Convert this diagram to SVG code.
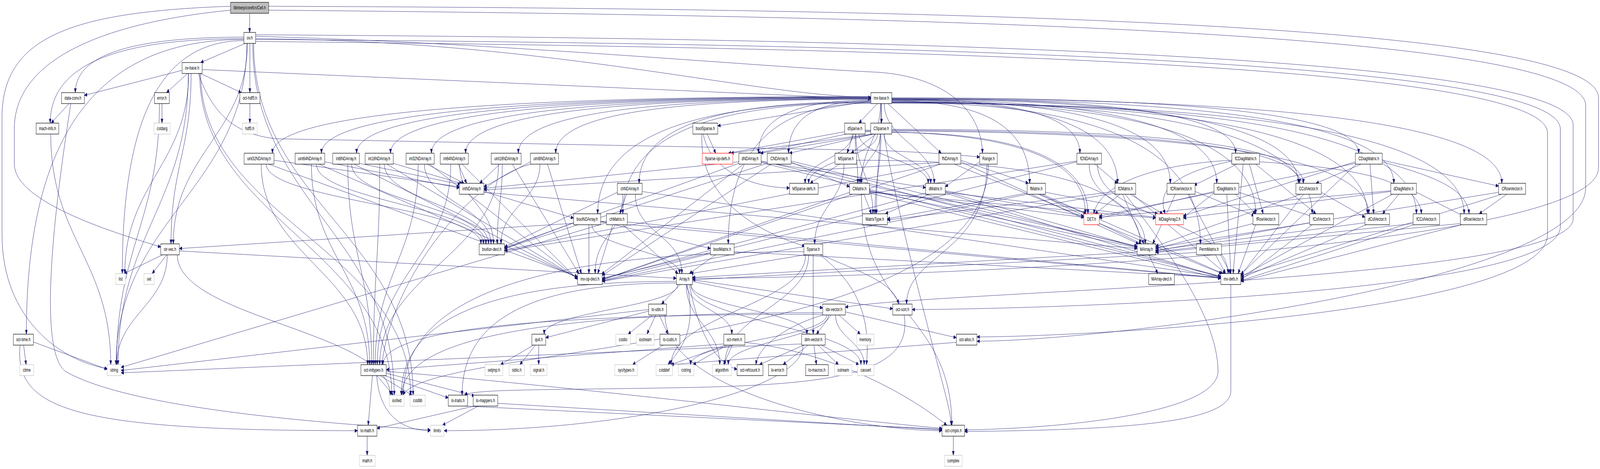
<svg xmlns="http://www.w3.org/2000/svg" width="6371" height="1200" viewBox="0 0 6371 1200" preserveAspectRatio="none" style="width:100vw;height:100vh;display:block">
<style>
.n rect{fill:#fff;stroke:#000;stroke-width:1.2}
.n.x rect{stroke:#bfbfbf}
.n.t rect{stroke:#f00}
.n.r rect{fill:#bfbfbf}
.n text{font-family:"Liberation Sans",Arial,sans-serif;font-size:13px;text-anchor:middle;fill:#000}
#edges path{fill:none;stroke:#191970;stroke-width:1;marker-end:url(#ah)}
</style>
<defs>
<marker id="ah" markerUnits="userSpaceOnUse" viewBox="0 0 12 10" markerWidth="12" markerHeight="10" refX="11" refY="4.5" orient="auto"><path d="M0,0 L11,4.5 L0,9 z" fill="#191970" stroke="#191970" stroke-width="1"/></marker>
</defs>
<rect width="6371" height="1200" fill="#fff"/>
<g id="edges">
<path d="M994,34 L994,83"/>
<path d="M918,16 C300,30 8,90 8,300 L8,600 C8,820 250,925 427,943"/>
<path d="M918,26 C380,60 57,160 57,330 L57,420 C57,520 480,600 640,632"/>
<path d="M1070,16 C3500,22 6365,50 6365,250 L6365,430 C6365,640 3600,712 2757,712"/>
<path d="M1070,26 C3500,40 6314,75 6314,270 L6314,480 C6314,720 4400,873 3890,873"/>
<path d="M977,111 L799,160"/>
<path d="M995,111 L995,237"/>
<path d="M971,95 C535,95 300,138 300,237"/>
<path d="M971,99 C470,99 200,164 200,315"/>
<path d="M971,101 C408,101 105,327 105,855"/>
<path d="M983,111 C983,484 462,560 462,933"/>
<path d="M971,104 C656,104 487,283 487,700"/>
<path d="M1010,111 C1010,516 1645,606 1645,1011"/>
<path d="M1006,111 C1006,516 1570,606 1570,1011"/>
<path d="M1018,93 C2000,110 3000,170 3500,185 C3800,200 3910,300 3912,392"/>
<path d="M1018,99 C2200,104 3000,246 3468,249"/>
<path d="M985,111 C985,342 690,393 690,624"/>
<path d="M1018,89 C3500,98 6264,140 6264,320 L6264,560 C6264,720 3700,745 3366,786"/>
<path d="M1018,101 C3500,112 6213,150 6213,330 L6213,580 C6213,760 4000,792 3632,792"/>
<path d="M1018,106 C3500,122 6162,160 6162,340 L6162,600 C6162,800 4300,862 3890,862"/>
<path d="M725,180 L336,244"/>
<path d="M747,188 L663,237"/>
<path d="M799,188 L961,237"/>
<path d="M805,178 L3468,253"/>
<path d="M761,188 C761,384 681,428 681,624"/>
<path d="M750,188 C750,523 470,598 470,933"/>
<path d="M751,188 C751,418 497,470 497,700"/>
<path d="M799,188 C799,558 1635,641 1635,1011"/>
<path d="M795,188 C795,558 1560,641 1560,1011"/>
<path d="M790,188 C850,300 950,345 1100,355 L3500,385 C3700,390 3850,398 3901,402"/>
<path d="M275,265 L204,315"/>
<path d="M282,265 C200,600 160,900 260,950 C500,1040 1200,1080 1714,1100"/>
<path d="M202,343 C202,609 441,667 441,933"/>
<path d="M645,265 L645,315"/>
<path d="M635,265 C635,565 464,633 464,933"/>
<path d="M995,265 L995,315"/>
<path d="M94,883 L104,933"/>
<path d="M133,875 L427,945"/>
<path d="M80,883 C55,1050 300,1102 1424,1102"/>
<path d="M647,652 L494,700"/>
<path d="M664,652 L606,700"/>
<path d="M666,652 C666,778 465,807 465,933"/>
<path d="M706,652 C706,814 1554,849 1554,1011"/>
<path d="M714,642 L2693,712"/>
<path d="M3468,258 L2858,322"/>
<path d="M3494,265 L3420,315"/>
<path d="M3510,265 L3510,315"/>
<path d="M3468,247 C1919,247 1085,293 1085,392"/>
<path d="M3468,248 C2046,248 1280,293 1280,392"/>
<path d="M3468,249 C2137,249 1420,293 1420,392"/>
<path d="M3468,250 C2225,250 1555,293 1555,392"/>
<path d="M3468,251 C2331,251 1718,293 1718,392"/>
<path d="M3468,252 C2419,252 1854,293 1854,392"/>
<path d="M3468,253 C2555,253 2064,293 2064,392"/>
<path d="M3468,254 C2652,254 2213,293 2213,392"/>
<path d="M3468,256 C3177,256 3020,300 3020,392"/>
<path d="M3468,258 C3255,258 3140,300 3140,392"/>
<path d="M3535,265 L3748,392"/>
<path d="M3551,254 C4038,254 4300,295 4300,392"/>
<path d="M3551,252 C4441,252 4920,294 4920,392"/>
<path d="M3551,250 C4759,250 5410,293 5410,392"/>
<path d="M3468,260 C2868,260 2545,323 2545,469"/>
<path d="M3506,265 C3506,357 3430,377 3430,469"/>
<path d="M3521,265 C3521,357 3720,377 3720,469"/>
<path d="M3551,258 C3908,258 4100,321 4100,469"/>
<path d="M3551,257 C4135,257 4450,321 4450,469"/>
<path d="M3551,256 C4272,256 4660,320 4660,469"/>
<path d="M3551,255 C4392,255 4845,320 4845,469"/>
<path d="M3551,254 C4603,254 5170,320 5170,469"/>
<path d="M3551,253 C4850,253 5550,319 5550,469"/>
<path d="M3551,252 C5130,252 5980,319 5980,469"/>
<path d="M3468,262 C2761,262 2380,348 2380,547"/>
<path d="M3468,263 C2826,263 2480,348 2480,547"/>
<path d="M3508,265 C3508,392 3490,420 3490,547"/>
<path d="M3551,260 C4493,260 5000,346 5000,547"/>
<path d="M3551,261 C4639,261 5225,346 5225,547"/>
<path d="M3551,262 C4782,262 5445,347 5445,547"/>
<path d="M3551,263 C4909,263 5640,347 5640,547"/>
<path d="M3551,264 C5032,264 5830,348 5830,547"/>
<path d="M3468,264 C3099,264 2900,372 2900,624"/>
<path d="M3551,262 C4350,262 4780,371 4780,624"/>
<path d="M2816,343 L2850,392"/>
<path d="M2800,343 C2830,440 3000,480 3144,481"/>
<path d="M2795,343 C2780,520 3050,600 3205,630"/>
<path d="M3420,343 C3420,400 3696,412 3696,469"/>
<path d="M3369,343 L3018,392"/>
<path d="M3405,343 C3405,400 3416,412 3416,469"/>
<path d="M3445,335 C4748,335 5450,399 5450,547"/>
<path d="M3445,333 C4573,333 5175,375 5175,469"/>
<path d="M3445,337 C4017,337 4322,400 4322,547"/>
<path d="M3399,343 L3373,392"/>
<path d="M3394,343 C3394,400 3206,412 3206,469"/>
<path d="M3363,337 L2900,392"/>
<path d="M3408,343 C3408,435 3476,455 3476,547"/>
<path d="M3520,343 C3520,400 3706,412 3706,469"/>
<path d="M3480,343 L3028,392"/>
<path d="M3478,343 L3143,392"/>
<path d="M3505,343 C3505,400 3424,412 3424,469"/>
<path d="M3551,331 C4616,331 5190,372 5190,469"/>
<path d="M3520,343 C3560,500 3640,700 3700,850 C3760,1000 3785,1050 3788,1088"/>
<path d="M3551,339 C4017,339 4332,400 4332,547"/>
<path d="M3488,343 L3389,392"/>
<path d="M3494,343 C3494,400 3220,412 3220,469"/>
<path d="M3473,343 L2910,392"/>
<path d="M3508,343 C3508,435 3484,455 3484,547"/>
<path d="M3343,420 L3226,469"/>
<path d="M3361,420 C3361,512 3244,532 3244,624"/>
<path d="M3411,410 C4145,410 4540,474 4540,624"/>
<path d="M3206,652 L2750,700"/>
<path d="M3238,652 L3238,855"/>
<path d="M3265,652 C3400,720 3470,800 3450,933"/>
<path d="M3270,652 C3400,690 3560,720 3578,778"/>
<path d="M3208,652 C3208,778 2672,807 2672,933"/>
<path d="M3220,652 C3220,778 2886,807 2886,933"/>
<path d="M3201,644 C2164,644 1606,754 1606,1011"/>
<path d="M2709,728 L2634,778"/>
<path d="M2757,720 L3276,788"/>
<path d="M2757,716 L3555,790"/>
<path d="M2751,728 C2751,785 3213,798 3213,855"/>
<path d="M2699,728 C2699,785 2167,798 2167,855"/>
<path d="M2735,728 C2735,785 2914,798 2914,855"/>
<path d="M2745,728 C2780,850 2850,930 2935,945"/>
<path d="M2751,728 C2751,820 3428,841 3428,933"/>
<path d="M2735,728 C2780,850 2700,900 2660,933"/>
<path d="M2732,728 C2732,820 2866,841 2866,933"/>
<path d="M2693,720 C1981,720 1598,807 1598,1011"/>
<path d="M2693,724 C2139,724 1840,810 1840,1011"/>
<path d="M2598,806 L2501,855"/>
<path d="M2611,806 L2576,855"/>
<path d="M2625,806 L2660,855"/>
<path d="M2583,796 L2173,864"/>
<path d="M2583,792 L482,948"/>
<path d="M2648,806 C2648,1000 3400,1102 3751,1102"/>
<path d="M2124,883 L1993,933"/>
<path d="M2132,883 L2070,933"/>
<path d="M2145,883 L2145,933"/>
<path d="M2641,883 L2519,933"/>
<path d="M2888,883 L2672,933"/>
<path d="M2895,883 L2760,933"/>
<path d="M2916,883 L2881,933"/>
<path d="M2882,880 L1538,946"/>
<path d="M2966,876 C3300,900 3600,1000 3770,1088"/>
<path d="M3241,883 L3251,933"/>
<path d="M3257,883 L3339,933"/>
<path d="M3270,883 L3420,933"/>
<path d="M3218,883 L3118,933"/>
<path d="M3201,883 L3024,933"/>
<path d="M3192,880 L482,954"/>
<path d="M3198,883 C3198,1000 2500,1102 1768,1102"/>
<path d="M3309,806 L3251,855"/>
<path d="M3340,806 L3426,855"/>
<path d="M3366,798 L3808,864"/>
<path d="M3327,806 C3327,863 3441,876 3441,933"/>
<path d="M3292,806 C3292,863 2750,876 2750,933"/>
<path d="M3299,806 C3299,863 2900,876 2900,933"/>
<path d="M3276,800 C2187,800 1600,863 1600,1011"/>
<path d="M3276,804 C2138,804 1525,843 1525,933"/>
<path d="M3276,806 C3150,830 3020,880 3010,933"/>
<path d="M3600,806 C3640,960 3300,985 2700,992 C2200,998 1880,995 1850,1011"/>
<path d="M3808,876 L2670,933"/>
<path d="M3796,1116 L3796,1165"/>
<path d="M1850,1039 L3751,1098"/>
<path d="M1904,1039 L1762,1088"/>
<path d="M1888,1039 L1501,1096"/>
<path d="M1982,1032 L3751,1100"/>
<path d="M1462,1116 L1462,1165"/>
<path d="M1501,961 L1566,1011"/>
<path d="M1513,961 L1641,1011"/>
<path d="M1531,961 L1785,1018"/>
<path d="M1538,955 L1890,1013"/>
<path d="M1483,961 L1466,1088"/>
<path d="M1500,961 C1510,1060 1600,1102 1714,1102"/>
<path d="M1538,950 C2300,990 3300,1070 3751,1096"/>
<path d="M1927,490 L2284,558"/>
<path d="M1927,492 L4528,636"/>
<path d="M1091,410 L1829,478"/>
<path d="M1293,414 L1829,481"/>
<path d="M1431,418 L1834,472"/>
<path d="M1566,418 L1840,470"/>
<path d="M1700,420 L1848,469"/>
<path d="M1825,420 L1858,469"/>
<path d="M1990,420 L1910,469"/>
<path d="M2112,414 L1927,478"/>
<path d="M1040,420 C1040,651 1464,702 1464,933"/>
<path d="M1240,420 C1240,651 1472,702 1472,933"/>
<path d="M1385,420 C1385,651 1480,702 1480,933"/>
<path d="M1512,420 C1512,651 1487,702 1487,933"/>
<path d="M1665,420 C1665,651 1494,702 1494,933"/>
<path d="M1795,420 C1795,651 1502,702 1502,933"/>
<path d="M1985,420 C1985,651 1512,702 1512,933"/>
<path d="M2115,420 C1900,450 1560,700 1521,933"/>
<path d="M1060,420 C1060,512 1915,532 1915,624"/>
<path d="M1260,420 C1260,512 1925,532 1925,624"/>
<path d="M1400,420 C1400,512 1935,532 1935,624"/>
<path d="M1530,420 C1530,512 1945,532 1945,624"/>
<path d="M1690,420 C1690,512 1955,532 1955,624"/>
<path d="M1830,420 C1830,512 1965,532 1965,624"/>
<path d="M2000,420 C2000,512 1980,532 1980,624"/>
<path d="M2150,420 C2150,512 1995,532 1995,624"/>
<path d="M1070,420 L2300,708"/>
<path d="M1270,420 L2300,710"/>
<path d="M1410,420 L2300,711"/>
<path d="M1540,420 L2300,712"/>
<path d="M1710,420 L2300,713"/>
<path d="M1840,420 L2300,715"/>
<path d="M2040,420 L2305,700"/>
<path d="M2180,420 L2315,700"/>
<path d="M2357,575 C2357,631 2706,644 2706,700"/>
<path d="M2392,568 L4861,712"/>
<path d="M2345,575 L2345,700"/>
<path d="M2284,570 L2009,636"/>
<path d="M2392,566 L2829,636"/>
<path d="M2850,652 L2745,700"/>
<path d="M2923,644 L4861,710"/>
<path d="M2829,646 L2398,712"/>
<path d="M2530,497 C2530,600 2715,600 2715,700"/>
<path d="M2495,497 L2468,547"/>
<path d="M2557,490 L4861,709"/>
<path d="M2480,497 C2480,600 2370,600 2370,700"/>
<path d="M2458,492 L2009,632"/>
<path d="M2415,570 L482,940"/>
<path d="M2480,575 L2700,700"/>
<path d="M2498,568 L4861,711"/>
<path d="M2440,575 L2380,700"/>
<path d="M2415,566 L714,636"/>
<path d="M3031,412 L4528,630"/>
<path d="M3031,414 L3686,480"/>
<path d="M2942,414 L1927,482"/>
<path d="M3031,416 L4861,708"/>
<path d="M2960,420 L2395,702"/>
<path d="M2942,418 L2009,634"/>
<path d="M3150,412 L4528,632"/>
<path d="M3150,415 L3383,478"/>
<path d="M3150,417 L4861,707"/>
<path d="M3070,420 L2398,705"/>
<path d="M3055,418 L2009,636"/>
<path d="M3826,414 L4534,624"/>
<path d="M3826,410 L4095,469"/>
<path d="M3739,416 L1927,486"/>
<path d="M3800,420 L4865,700"/>
<path d="M3745,420 L2398,716"/>
<path d="M3739,420 L2009,640"/>
<path d="M4337,420 C4337,520 4560,520 4560,624"/>
<path d="M4360,420 L4450,469"/>
<path d="M4370,420 C4370,560 4890,560 4890,700"/>
<path d="M4288,414 L2398,718"/>
<path d="M4288,412 L2009,642"/>
<path d="M3462,488 L4528,634"/>
<path d="M3462,492 L4602,558"/>
<path d="M3440,497 L3470,547"/>
<path d="M3462,494 L4861,713"/>
<path d="M3383,492 L2398,716"/>
<path d="M3430,497 C3430,800 3790,800 3790,1088"/>
<path d="M3462,490 L4316,556"/>
<path d="M3764,490 L4528,632"/>
<path d="M3764,492 L4602,556"/>
<path d="M3700,497 L3525,547"/>
<path d="M3764,494 L4861,710"/>
<path d="M3686,494 L2398,714"/>
<path d="M3764,488 L4316,553"/>
<path d="M4140,497 L4545,624"/>
<path d="M4163,492 L4610,547"/>
<path d="M4090,494 L3533,560"/>
<path d="M4150,497 L4870,700"/>
<path d="M4090,497 L2398,719"/>
<path d="M4135,497 L4325,547"/>
<path d="M4470,497 L4555,624"/>
<path d="M4500,497 L4630,547"/>
<path d="M4440,490 L3533,563"/>
<path d="M4510,497 L4880,700"/>
<path d="M4440,494 L2398,720"/>
<path d="M4481,497 C4600,600 4850,800 4850,950 C4850,1050 4300,1095 3841,1100"/>
<path d="M4460,497 L4360,547"/>
<path d="M5435,570 L4602,640"/>
<path d="M5440,575 L4941,712"/>
<path d="M5180,497 L4602,630"/>
<path d="M5190,497 L4941,704"/>
<path d="M5261,492 L5435,556"/>
<path d="M5215,570 L4602,642"/>
<path d="M5225,575 L4941,716"/>
<path d="M5627,572 L4602,644"/>
<path d="M5630,575 L4941,718"/>
<path d="M5815,572 L4602,646"/>
<path d="M5820,575 L4941,720"/>
<path d="M5967,492 L4602,634"/>
<path d="M5980,497 L4941,706"/>
<path d="M6000,497 L5890,547"/>
<path d="M4989,572 L4602,636"/>
<path d="M5000,575 L4930,700"/>
<path d="M4680,497 L4590,624"/>
<path d="M4730,497 L4900,700"/>
<path d="M4759,490 L4995,552"/>
<path d="M5538,490 L4712,558"/>
<path d="M5640,492 L5825,552"/>
<path d="M5570,497 L5505,547"/>
<path d="M5545,497 L4941,708"/>
<path d="M5538,488 L4377,556"/>
<path d="M5397,414 L4712,552"/>
<path d="M5504,414 C5700,450 5840,480 5850,547"/>
<path d="M5504,410 L5967,476"/>
<path d="M5455,420 L5470,547"/>
<path d="M5420,420 L5240,469"/>
<path d="M5400,420 L4941,702"/>
<path d="M5397,418 L4377,553"/>
<path d="M4834,494 L4712,556"/>
<path d="M4920,497 L5000,547"/>
<path d="M4933,492 L5225,554"/>
<path d="M4885,497 L4901,700"/>
<path d="M4834,490 L4377,558"/>
<path d="M4905,412 C4700,440 4600,480 4640,547"/>
<path d="M4975,420 L5030,547"/>
<path d="M4925,420 L4755,474"/>
<path d="M5000,420 L5240,547"/>
<path d="M5015,414 C5400,430 5650,460 5660,547"/>
<path d="M4950,420 L4910,700"/>
<path d="M4905,410 C4600,420 4380,470 4355,547"/>
<path d="M4764,646 L2757,716"/>
<path d="M4840,652 L4880,700"/>
<path d="M4528,645 L2757,710"/>
<path d="M4575,652 L4610,700"/>
<path d="M4901,728 L4901,1000 C4901,1080 4500,1100 3841,1104"/>
<path d="M3901,414 L3764,478"/>
<path d="M3930,420 C3930,650 3610,650 3610,778"/>
<path d="M3936,420 C3936,900 1700,880 1605,1011"/>
</g>
<g id="n-cell" class="n r"><rect x="918" y="6" width="152" height="28"/><text x="994" y="24.5">libinterp/corefcn/Cell.h</text></g>
<g id="n-ov" class="n"><rect x="971" y="83" width="47" height="28"/><text x="994.5" y="101.5">ov.h</text></g>
<g id="n-ov-base" class="n"><rect x="725" y="160" width="80" height="28"/><text x="765" y="178.5">ov-base.h</text></g>
<g id="n-data-conv" class="n"><rect x="245" y="237" width="91" height="28"/><text x="290.5" y="255.5">data-conv.h</text></g>
<g id="n-error" class="n"><rect x="615" y="237" width="59" height="28"/><text x="644.5" y="255.5">error.h</text></g>
<g id="n-oct-hdf5" class="n"><rect x="955" y="237" width="80" height="28"/><text x="995" y="255.5">oct-hdf5.h</text></g>
<g id="n-mx-base" class="n"><rect x="3468" y="237" width="83" height="28"/><text x="3509.5" y="255.5">mx-base.h</text></g>
<g id="n-mach-info" class="n"><rect x="144" y="315" width="90" height="28"/><text x="189" y="333.5">mach-info.h</text></g>
<g id="n-cstdarg" class="n x"><rect x="613" y="315" width="65" height="28"/><text x="645.5" y="333.5">cstdarg</text></g>
<g id="n-hdf5" class="n x"><rect x="965" y="315" width="59" height="28"/><text x="994.5" y="333.5">hdf5.h</text></g>
<g id="n-boolSparse" class="n"><rect x="2759" y="315" width="99" height="28"/><text x="2808.5" y="333.5">boolSparse.h</text></g>
<g id="n-dSparse" class="n"><rect x="3363" y="315" width="82" height="28"/><text x="3404" y="333.5">dSparse.h</text></g>
<g id="n-CSparse" class="n"><rect x="3467" y="315" width="84" height="28"/><text x="3509" y="333.5">CSparse.h</text></g>
<g id="n-uint32NDArray" class="n"><rect x="972" y="392" width="119" height="28"/><text x="1031.5" y="410.5">uint32NDArray.h</text></g>
<g id="n-uint64NDArray" class="n"><rect x="1175" y="392" width="118" height="28"/><text x="1234" y="410.5">uint64NDArray.h</text></g>
<g id="n-int8NDArray" class="n"><rect x="1325" y="392" width="106" height="28"/><text x="1378" y="410.5">int8NDArray.h</text></g>
<g id="n-int16NDArray" class="n"><rect x="1454" y="392" width="112" height="28"/><text x="1510" y="410.5">int16NDArray.h</text></g>
<g id="n-int32NDArray" class="n"><rect x="1617" y="392" width="112" height="28"/><text x="1673" y="410.5">int32NDArray.h</text></g>
<g id="n-int64NDArray" class="n"><rect x="1753" y="392" width="112" height="28"/><text x="1809" y="410.5">int64NDArray.h</text></g>
<g id="n-uint16NDArray" class="n"><rect x="1956" y="392" width="119" height="28"/><text x="2015.5" y="410.5">uint16NDArray.h</text></g>
<g id="n-uint8NDArray" class="n"><rect x="2112" y="392" width="112" height="28"/><text x="2168" y="410.5">uint8NDArray.h</text></g>
<g id="n-Sparse-op-defs" class="n t"><rect x="2796" y="392" width="122" height="28"/><text x="2857" y="410.5">Sparse-op-defs.h</text></g>
<g id="n-dNDArray" class="n"><rect x="2942" y="392" width="89" height="28"/><text x="2986.5" y="410.5">dNDArray.h</text></g>
<g id="n-CNDArray" class="n"><rect x="3055" y="392" width="95" height="28"/><text x="3102.5" y="410.5">CNDArray.h</text></g>
<g id="n-MSparse" class="n"><rect x="3325" y="392" width="86" height="28"/><text x="3368" y="410.5">MSparse.h</text></g>
<g id="n-fNDArray" class="n"><rect x="3739" y="392" width="87" height="28"/><text x="3782.5" y="410.5">fNDArray.h</text></g>
<g id="n-Range" class="n"><rect x="3901" y="392" width="70" height="28"/><text x="3936" y="410.5">Range.h</text></g>
<g id="n-fCNDArray" class="n"><rect x="4288" y="392" width="98" height="28"/><text x="4337" y="410.5">fCNDArray.h</text></g>
<g id="n-fCDiagMatrix" class="n"><rect x="4905" y="392" width="110" height="28"/><text x="4960" y="410.5">fCDiagMatrix.h</text></g>
<g id="n-CDiagMatrix" class="n"><rect x="5397" y="392" width="107" height="28"/><text x="5450.5" y="410.5">CDiagMatrix.h</text></g>
<g id="n-intNDArray" class="n"><rect x="1829" y="469" width="98" height="28"/><text x="1878" y="487.5">intNDArray.h</text></g>
<g id="n-chNDArray" class="n"><rect x="2458" y="469" width="99" height="28"/><text x="2507.5" y="487.5">chNDArray.h</text></g>
<g id="n-MSparse-defs" class="n"><rect x="3144" y="469" width="114" height="28"/><text x="3201" y="487.5">MSparse-defs.h</text></g>
<g id="n-CMatrix" class="n"><rect x="3383" y="469" width="79" height="28"/><text x="3422.5" y="487.5">CMatrix.h</text></g>
<g id="n-dMatrix" class="n"><rect x="3686" y="469" width="78" height="28"/><text x="3725" y="487.5">dMatrix.h</text></g>
<g id="n-fMatrix" class="n"><rect x="4090" y="469" width="73" height="28"/><text x="4126.5" y="487.5">fMatrix.h</text></g>
<g id="n-fCMatrix" class="n"><rect x="4440" y="469" width="82" height="28"/><text x="4481" y="487.5">fCMatrix.h</text></g>
<g id="n-fCRowVector" class="n"><rect x="4647" y="469" width="112" height="28"/><text x="4703" y="487.5">fCRowVector.h</text></g>
<g id="n-fDiagMatrix" class="n"><rect x="4834" y="469" width="99" height="28"/><text x="4883.5" y="487.5">fDiagMatrix.h</text></g>
<g id="n-CColVector" class="n"><rect x="5160" y="469" width="101" height="28"/><text x="5210.5" y="487.5">CColVector.h</text></g>
<g id="n-dDiagMatrix" class="n"><rect x="5538" y="469" width="102" height="28"/><text x="5589" y="487.5">dDiagMatrix.h</text></g>
<g id="n-CRowVector" class="n"><rect x="5967" y="469" width="108" height="28"/><text x="6021" y="487.5">CRowVector.h</text></g>
<g id="n-boolNDArray" class="n"><rect x="2284" y="547" width="108" height="28"/><text x="2338" y="565.5">boolNDArray.h</text></g>
<g id="n-chMatrix" class="n"><rect x="2415" y="547" width="83" height="28"/><text x="2456.5" y="565.5">chMatrix.h</text></g>
<g id="n-MatrixType" class="n"><rect x="3434" y="547" width="99" height="28"/><text x="3483.5" y="565.5">MatrixType.h</text></g>
<g id="n-DET" class="n t"><rect x="4316" y="547" width="61" height="28"/><text x="4346.5" y="565.5">DET.h</text></g>
<g id="n-MDiagArray2" class="n t"><rect x="4602" y="547" width="110" height="28"/><text x="4657" y="565.5">MDiagArray2.h</text></g>
<g id="n-fRowVector" class="n"><rect x="4989" y="547" width="103" height="28"/><text x="5040.5" y="565.5">fRowVector.h</text></g>
<g id="n-fColVector" class="n"><rect x="5215" y="547" width="95" height="28"/><text x="5262.5" y="565.5">fColVector.h</text></g>
<g id="n-dColVector" class="n"><rect x="5435" y="547" width="98" height="28"/><text x="5484" y="565.5">dColVector.h</text></g>
<g id="n-fCColVector" class="n"><rect x="5627" y="547" width="105" height="28"/><text x="5679.5" y="565.5">fCColVector.h</text></g>
<g id="n-dRowVector" class="n"><rect x="5815" y="547" width="105" height="28"/><text x="5867.5" y="565.5">dRowVector.h</text></g>
<g id="n-str-vec" class="n"><rect x="640" y="624" width="74" height="28"/><text x="677" y="642.5">str-vec.h</text></g>
<g id="n-bsxfun-decl" class="n"><rect x="1908" y="624" width="101" height="28"/><text x="1958.5" y="642.5">bsxfun-decl.h</text></g>
<g id="n-boolMatrix" class="n"><rect x="2829" y="624" width="94" height="28"/><text x="2876" y="642.5">boolMatrix.h</text></g>
<g id="n-Sparse" class="n"><rect x="3201" y="624" width="75" height="28"/><text x="3238.5" y="642.5">Sparse.h</text></g>
<g id="n-MArray" class="n"><rect x="4528" y="624" width="74" height="28"/><text x="4565" y="642.5">MArray.h</text></g>
<g id="n-PermMatrix" class="n"><rect x="4764" y="624" width="100" height="28"/><text x="4814" y="642.5">PermMatrix.h</text></g>
<g id="n-list" class="n x"><rect x="461" y="700" width="39" height="28"/><text x="480.5" y="718.5">list</text></g>
<g id="n-set" class="n x"><rect x="573" y="700" width="41" height="28"/><text x="593.5" y="718.5">set</text></g>
<g id="n-mx-op-decl" class="n"><rect x="2300" y="700" width="98" height="28"/><text x="2349" y="718.5">mx-op-decl.h</text></g>
<g id="n-Array" class="n"><rect x="2693" y="700" width="64" height="28"/><text x="2725" y="718.5">Array.h</text></g>
<g id="n-MArray-decl" class="n"><rect x="4574" y="700" width="102" height="28"/><text x="4625" y="718.5">MArray-decl.h</text></g>
<g id="n-mx-defs" class="n"><rect x="4861" y="700" width="80" height="28"/><text x="4901" y="718.5">mx-defs.h</text></g>
<g id="n-lo-utils" class="n"><rect x="2583" y="778" width="71" height="28"/><text x="2618.5" y="796.5">lo-utils.h</text></g>
<g id="n-idx-vector" class="n"><rect x="3276" y="778" width="90" height="28"/><text x="3321" y="796.5">idx-vector.h</text></g>
<g id="n-oct-sort" class="n"><rect x="3555" y="778" width="77" height="28"/><text x="3593.5" y="796.5">oct-sort.h</text></g>
<g id="n-oct-time" class="n"><rect x="53" y="855" width="80" height="28"/><text x="93" y="873.5">oct-time.h</text></g>
<g id="n-quit" class="n"><rect x="2118" y="855" width="55" height="28"/><text x="2145.5" y="873.5">quit.h</text></g>
<g id="n-cstdio" class="n x"><rect x="2452" y="855" width="58" height="28"/><text x="2481" y="873.5">cstdio</text></g>
<g id="n-iostream" class="n x"><rect x="2534" y="855" width="71" height="28"/><text x="2569.5" y="873.5">iostream</text></g>
<g id="n-lo-cutils" class="n"><rect x="2628" y="855" width="79" height="28"/><text x="2667.5" y="873.5">lo-cutils.h</text></g>
<g id="n-oct-mem" class="n"><rect x="2882" y="855" width="84" height="28"/><text x="2924" y="873.5">oct-mem.h</text></g>
<g id="n-dim-vector" class="n"><rect x="3192" y="855" width="94" height="28"/><text x="3239" y="873.5">dim-vector.h</text></g>
<g id="n-memory" class="n x"><rect x="3411" y="855" width="69" height="28"/><text x="3445.5" y="873.5">memory</text></g>
<g id="n-oct-alloc" class="n"><rect x="3808" y="855" width="82" height="28"/><text x="3849" y="873.5">oct-alloc.h</text></g>
<g id="n-ctime" class="n x"><rect x="79" y="933" width="55" height="28"/><text x="106.5" y="951.5">ctime</text></g>
<g id="n-string" class="n x"><rect x="427" y="933" width="55" height="28"/><text x="454.5" y="951.5">string</text></g>
<g id="n-oct-inttypes" class="n"><rect x="1437" y="933" width="101" height="28"/><text x="1487.5" y="951.5">oct-inttypes.h</text></g>
<g id="n-setjmp" class="n x"><rect x="1931" y="933" width="71" height="28"/><text x="1966.5" y="951.5">setjmp.h</text></g>
<g id="n-stdio" class="n x"><rect x="2027" y="933" width="61" height="28"/><text x="2057.5" y="951.5">stdio.h</text></g>
<g id="n-signal" class="n x"><rect x="2112" y="933" width="66" height="28"/><text x="2145" y="951.5">signal.h</text></g>
<g id="n-sys-types" class="n x"><rect x="2448" y="933" width="90" height="28"/><text x="2493" y="951.5">sys/types.h</text></g>
<g id="n-cstddef" class="n x"><rect x="2612" y="933" width="66" height="28"/><text x="2645" y="951.5">cstddef</text></g>
<g id="n-cstring" class="n x"><rect x="2701" y="933" width="62" height="28"/><text x="2732" y="951.5">cstring</text></g>
<g id="n-algorithm" class="n x"><rect x="2837" y="933" width="75" height="28"/><text x="2874.5" y="951.5">algorithm</text></g>
<g id="n-oct-refcount" class="n"><rect x="2935" y="933" width="103" height="28"/><text x="2986.5" y="951.5">oct-refcount.h</text></g>
<g id="n-lo-error" class="n"><rect x="3060" y="933" width="73" height="28"/><text x="3096.5" y="951.5">lo-error.h</text></g>
<g id="n-lo-macros" class="n"><rect x="3208" y="933" width="90" height="28"/><text x="3253" y="951.5">lo-macros.h</text></g>
<g id="n-sstream" class="n x"><rect x="3323" y="933" width="69" height="28"/><text x="3357.5" y="951.5">sstream</text></g>
<g id="n-cassert" class="n x"><rect x="3415" y="933" width="65" height="28"/><text x="3447.5" y="951.5">cassert</text></g>
<g id="n-iosfwd" class="n x"><rect x="1550" y="1011" width="60" height="28"/><text x="1580" y="1029.5">iosfwd</text></g>
<g id="n-cstdlib" class="n x"><rect x="1633" y="1011" width="60" height="28"/><text x="1663" y="1029.5">cstdlib</text></g>
<g id="n-lo-traits" class="n"><rect x="1785" y="1011" width="77" height="28"/><text x="1823.5" y="1029.5">lo-traits.h</text></g>
<g id="n-lo-mappers" class="n"><rect x="1884" y="1011" width="98" height="28"/><text x="1933" y="1029.5">lo-mappers.h</text></g>
<g id="n-lo-math" class="n"><rect x="1424" y="1088" width="77" height="28"/><text x="1462.5" y="1106.5">lo-math.h</text></g>
<g id="n-limits" class="n x"><rect x="1714" y="1088" width="54" height="28"/><text x="1741" y="1106.5">limits</text></g>
<g id="n-oct-cmplx" class="n"><rect x="3751" y="1088" width="90" height="28"/><text x="3796" y="1106.5">oct-cmplx.h</text></g>
<g id="n-math" class="n x"><rect x="1431" y="1165" width="63" height="28"/><text x="1462.5" y="1183.5">math.h</text></g>
<g id="n-complex" class="n x"><rect x="3761" y="1165" width="70" height="28"/><text x="3796" y="1183.5">complex</text></g>
</svg>
